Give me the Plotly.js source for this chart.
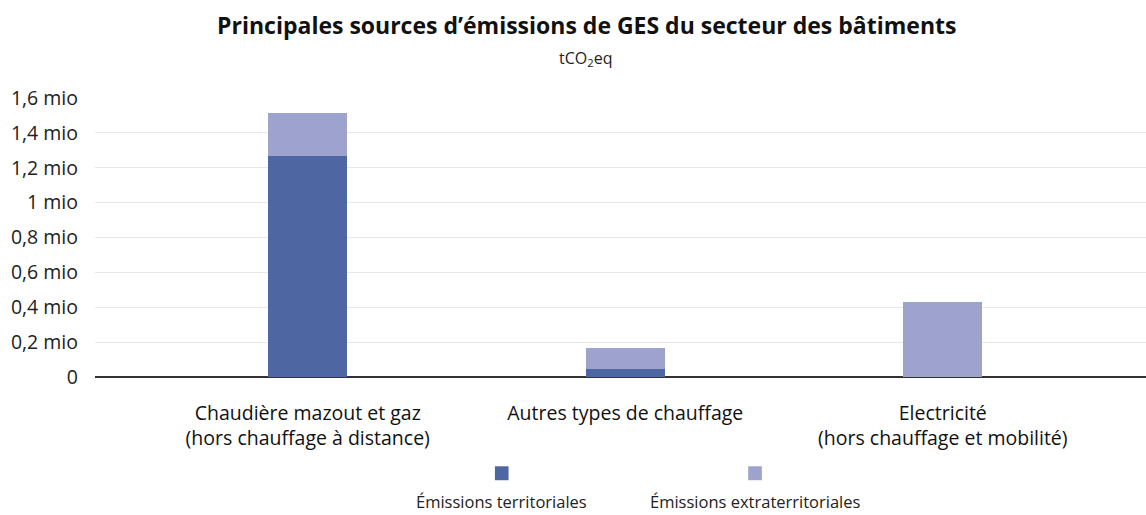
<!DOCTYPE html>
<html><head><meta charset="utf-8">
<script src="https://cdn.plot.ly/plotly-3.0.1.min.js"></script>
<style>body{margin:0;background:#fff}#c{width:1146px;height:515px}</style>
</head><body><div id="c"></div>
<script>
const categories = ["Chaudière mazout et gaz<br>(hors chauffage à distance)", "Autres types de chauffage", "Electricité<br>(hors chauffage et mobilité)"];
const territoriales = [1270000, 45000, 0];
const extraterritoriales = [243000, 120000, 430000];
const seriesNames = ["Émissions territoriales", "Émissions extraterritoriales"];
const tickVals = [0, 200000, 400000, 600000, 800000, 1000000, 1200000, 1400000, 1600000];
const tickText = ["0", "0,2 mio", "0,4 mio", "0,6 mio", "0,8 mio", "1 mio", "1,2 mio", "1,4 mio", "1,6 mio"];
const colors = ["#4e66a2", "#9da3cd"];
const FONT = "'Open Sans', 'Noto Sans', sans-serif";

const idx = categories.map((_, i) => i);
const traces = [
  {type: "bar", x: idx, y: territoriales, name: seriesNames[0], marker: {color: colors[0], line:{width:0}}, width: 0.25, hoverinfo: "y"},
  {type: "bar", x: idx, y: extraterritoriales, name: seriesNames[1], marker: {color: colors[1], line:{width:0}}, width: 0.25, hoverinfo: "y"}
];

const legX = [0.387, 0.628];
const shapes = [];
const annotations = [
  {text: "tCO<sub>2</sub>eq", xref: "paper", yref: "paper", x: 0.467, y: 1.19, xanchor: "center", showarrow: false, font: {family: FONT, size: 16, color: "#222"}}
];
legX.forEach((lx, i) => {
  shapes.push({type: "rect", xref: "paper", yref: "paper", x0: lx - 0.0065, x1: lx + 0.0065, y0: -0.37, y1: -0.32, fillcolor: colors[i], line: {width: 0}});
  annotations.push({text: seriesNames[i], xref: "paper", yref: "paper", x: lx, y: -0.495, xanchor: "center", showarrow: false, font: {family: FONT, size: 16.5, color: "#222"}});
});

const layout = {
  width: 1146, height: 515,
  margin: {l: 95, r: 0, t: 98, b: 138},
  paper_bgcolor: "#fff", plot_bgcolor: "#fff",
  barmode: "stack",
  showlegend: false,
  title: {text: "<b>Principales sources d’émissions de GES du secteur des bâtiments</b>", x: 0.512, xanchor: "center", y: 0.95, yanchor: "middle", font: {family: FONT, size: 23, color: "#111"}},
  font: {family: FONT, color: "#222"},
  xaxis: {tickmode: "array", tickvals: idx, ticktext: categories, range: [-0.67, 2.64], showgrid: false, zeroline: false, showline: false, ticks: "", ticklabelstandoff: 22, tickfont: {family: FONT, size: 19.5, color: "#111"}},
  yaxis: {range: [0, 1600000], tickmode: "array", tickvals: tickVals, ticktext: tickText, showgrid: true, gridcolor: "#e8e8e8", gridwidth: 1, zeroline: true, zerolinecolor: "#333", zerolinewidth: 1.5, showline: false, ticks: "", ticklabelstandoff: 16, tickfont: {family: FONT, size: 19.5, color: "#222"}},
  shapes: shapes,
  annotations: annotations,
  bargap: 0.5
};
Plotly.newPlot("c", traces, layout, {displayModeBar: false, staticPlot: true});
</script></body></html>
